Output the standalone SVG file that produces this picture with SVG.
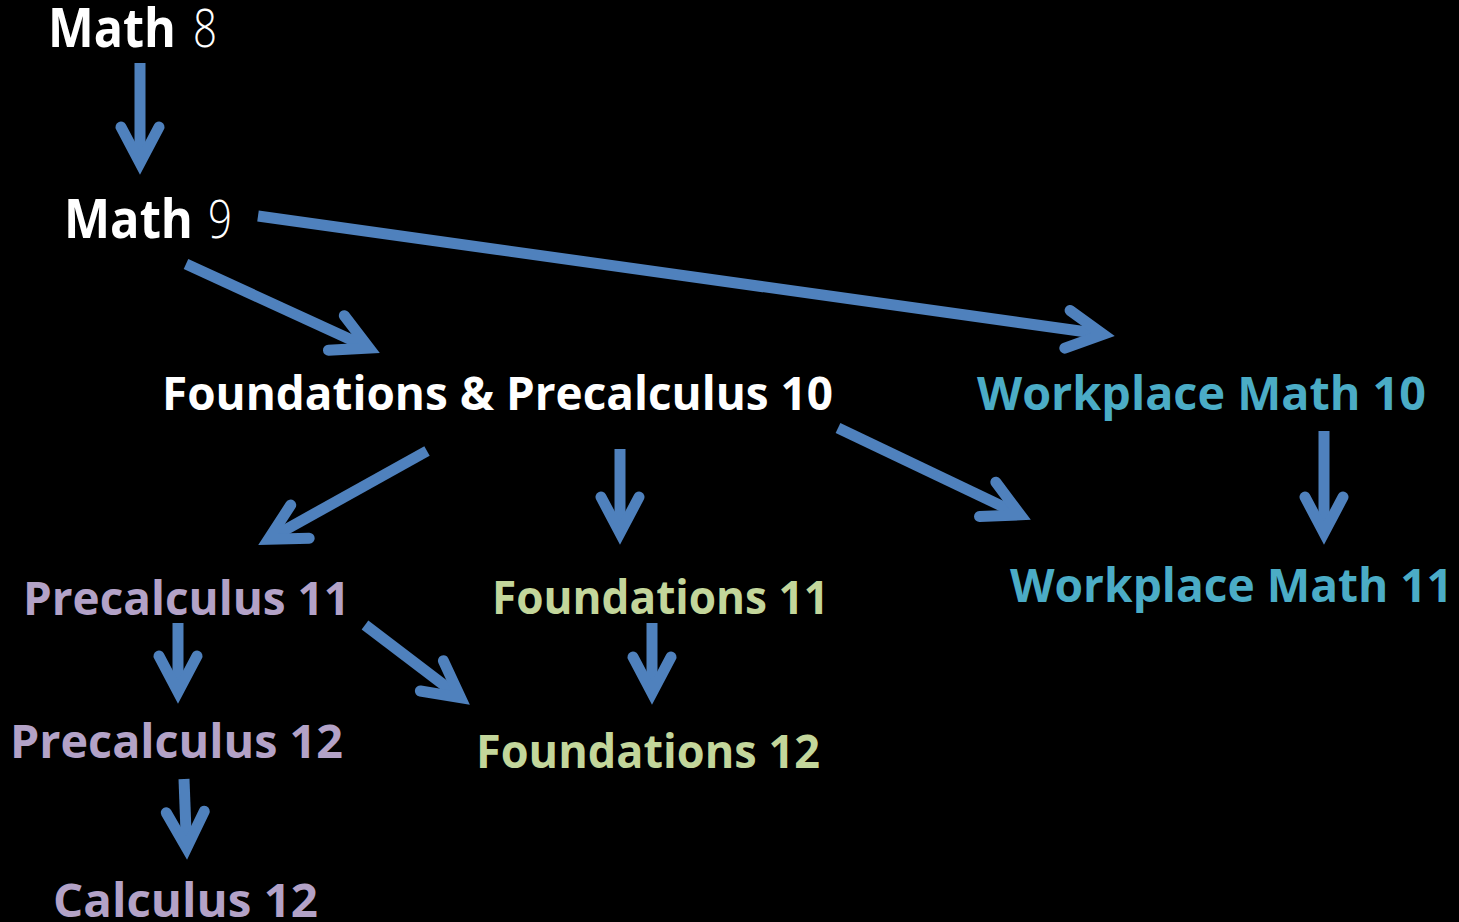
<svg xmlns="http://www.w3.org/2000/svg" width="1459" height="922" viewBox="0 0 1459 922">
<defs>
<style>
.t{font-family:"Open Sans","Liberation Sans",sans-serif;font-weight:700;font-size:46px}
.big{font-size:53px}
.thin{font-family:"Open Sans","Liberation Sans",sans-serif;font-weight:300;font-size:53px;fill:#fff}
.w{fill:#fff}
.p{fill:#B3A2C7}
.g{fill:#C3D69B}
.a{fill:#4BACC6}
.c line{stroke:#4F81BD;stroke-width:11;fill:none;marker-end:url(#head)}
</style>
<marker id="head" markerUnits="userSpaceOnUse" viewBox="-60 -40 80 80" markerWidth="80" markerHeight="80" refX="0" refY="0" orient="auto" overflow="visible">
<path d="M-36,-19 L0,0 L-36,19" fill="none" stroke="#4F81BD" stroke-width="11" stroke-linecap="round" stroke-linejoin="miter"/>
</marker>
</defs>
<rect width="1459" height="922" fill="#000"/>
<g id="connectors" class="c">
<line x1="140" y1="63" x2="140" y2="163"/>
<line x1="258" y1="216" x2="1103.1" y2="334.3"/>
<line x1="186" y1="264" x2="369.1" y2="348"/>
<line x1="427" y1="451" x2="268.5" y2="539.2"/>
<line x1="620" y1="449" x2="620" y2="533"/>
<line x1="838" y1="428" x2="1020.2" y2="514.8"/>
<line x1="1324" y1="431" x2="1324" y2="533"/>
<line x1="178" y1="623" x2="178" y2="692"/>
<line x1="365" y1="625" x2="460.5" y2="697.7"/>
<line x1="652" y1="623" x2="652" y2="693"/>
<line x1="184" y1="779" x2="186.6" y2="848"/>
</g>
<g id="math8">
<text class="t big w" x="48" y="47" textLength="128" lengthAdjust="spacingAndGlyphs">Math</text>
<text class="thin" x="193" y="47" textLength="24" lengthAdjust="spacingAndGlyphs">8</text>
</g>
<g id="math9">
<text class="t big w" x="64" y="238" textLength="129" lengthAdjust="spacingAndGlyphs">Math</text>
<text class="thin" x="208" y="238" textLength="24" lengthAdjust="spacingAndGlyphs">9</text>
</g>
<g id="fp10"><text class="t w" x="162" y="410" textLength="671" lengthAdjust="spacingAndGlyphs">Foundations &amp; Precalculus 10</text></g>
<g id="wm10"><text class="t a" x="977" y="410" textLength="449" lengthAdjust="spacingAndGlyphs">Workplace Math 10</text></g>
<g id="wm11"><text class="t a" x="1010" y="602" textLength="443" lengthAdjust="spacingAndGlyphs">Workplace Math 11</text></g>
<g id="pc11"><text class="t p" x="23" y="615" textLength="327" lengthAdjust="spacingAndGlyphs">Precalculus 11</text></g>
<g id="f11"><text class="t g" x="492" y="614" textLength="337" lengthAdjust="spacingAndGlyphs">Foundations 11</text></g>
<g id="pc12"><text class="t p" x="10" y="758" textLength="333" lengthAdjust="spacingAndGlyphs">Precalculus 12</text></g>
<g id="f12"><text class="t g" x="476" y="768" textLength="344" lengthAdjust="spacingAndGlyphs">Foundations 12</text></g>
<g id="calc12"><text class="t p" x="53" y="917" textLength="265" lengthAdjust="spacingAndGlyphs">Calculus 12</text></g>
</svg>
